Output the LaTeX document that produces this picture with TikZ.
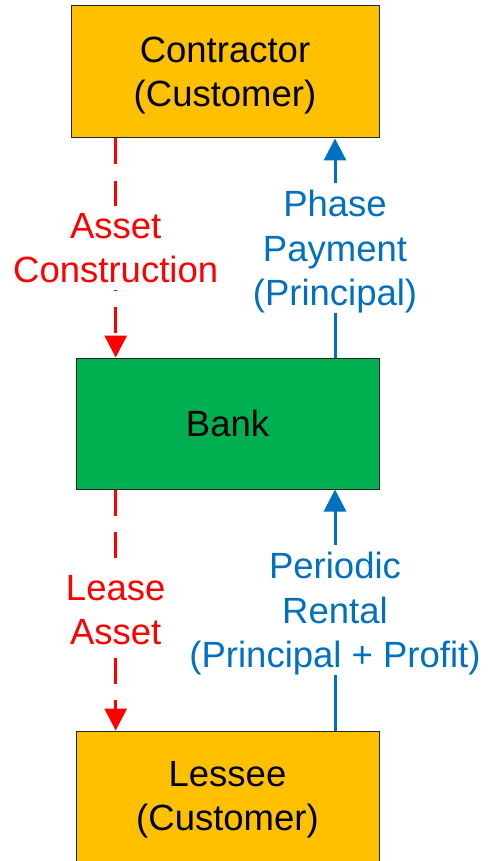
\documentclass[tikz,border=0pt]{standalone}
\usepackage{fontspec}
\setmainfont{Liberation Sans}
\usetikzlibrary{arrows.meta}
\definecolor{boxorange}{HTML}{FFC000}
\definecolor{boxgreen}{HTML}{00B050}
\definecolor{flowblue}{HTML}{0070C0}
\definecolor{flowred}{HTML}{FF0000}
\begin{document}
\begin{tikzpicture}[x=1pt,y=-1pt,
  bigtext/.style={font=\fontsize{36.5}{44.5}\selectfont, align=center, text depth=0pt},
  box/.style={bigtext, draw=black!85, line width=1pt, inner sep=0pt},
  flow/.style={line width=3pt, -{Triangle[width=22pt,length=22pt]}},
  redflow/.style={flow, draw=flowred, dash pattern=on 26pt off 16pt},
  blueflow/.style={flow, draw=flowblue},
  lbl/.style={bigtext, fill=white, inner xsep=2pt, inner ysep=7pt}]
\useasboundingbox (0,0) rectangle (487,861);
\node[box, fill=boxorange, minimum width=308pt, minimum height=132pt] (contractor) at (225,72) {Contractor\\(Customer)};
\node[box, fill=boxgreen, minimum width=303pt, minimum height=131pt] (bank) at (227.5,423.5) {Bank};
\node[box, fill=boxorange, minimum width=303pt, minimum height=137pt, text depth=7pt] (lessee) at (227.5,799.5) {Lessee\\(Customer)};
\coordinate (rx) at (115.7,0);
\coordinate (bx) at (335,0);
\draw[redflow] (rx |- contractor.south) -- (rx |- bank.north)
  node[lbl, midway, text=flowred] (asset) {Asset\\Construction};
\draw[blueflow] (bx |- bank.north) -- (bx |- contractor.south)
  node[lbl, midway, text=flowblue] (phase) {Phase\\Payment\\(Principal)};
\draw[redflow] (rx |- bank.south) -- (rx |- lessee.north)
  node[lbl, midway, text=flowred] (lease) {Lease\\Asset};
\draw[blueflow] (bx |- lessee.north) -- (bx |- bank.south)
  node[lbl, midway, text=flowblue] (rental) {Periodic\\Rental\\(Principal + Profit)};
\end{tikzpicture}
\end{document}
